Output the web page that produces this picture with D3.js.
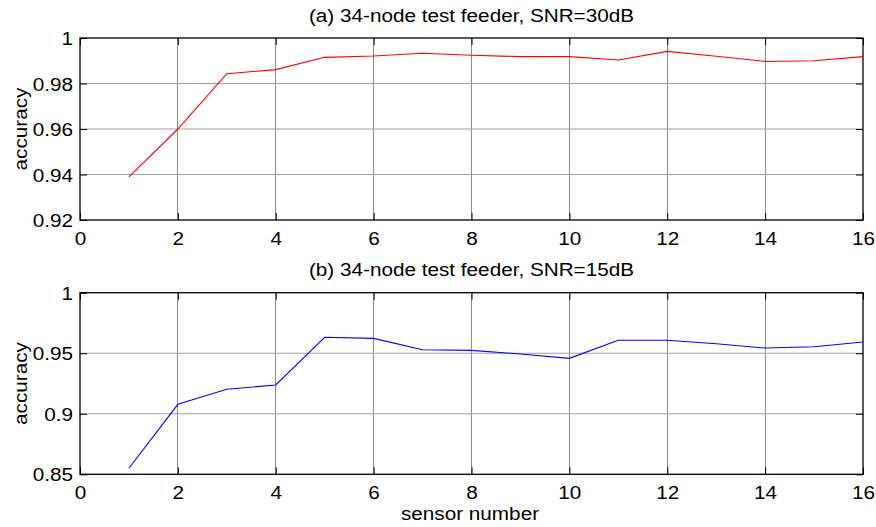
<!DOCTYPE html>
<html><head><meta charset="utf-8">
<script src="https://cdn.jsdelivr.net/npm/d3@7"></script>
<style>
body{margin:0;background:#fff;}
svg{display:block;}
text{font-family:"Liberation Sans",Arial,sans-serif;fill:#000;}
</style></head>
<body>
<svg id="c" width="876" height="527"></svg>
<script>
const sensors = [1,2,3,4,5,6,7,8,9,10,11,12,13,14,15,16];
const acc30 = [0.939,0.960,0.9843,0.9861,0.9915,0.9921,0.9933,0.9924,0.9918,0.9918,0.9903,0.9941,0.9920,0.9897,0.9900,0.9918];
const acc15 = [0.855,0.9078,0.9202,0.9238,0.9632,0.9623,0.9529,0.9524,0.9494,0.9458,0.9607,0.9607,0.9578,0.9543,0.9554,0.9593];
const xTicks = [0,2,4,6,8,10,12,14,16];
const yTicks30 = [0.92,0.94,0.96,0.98,1];
const yTicks15 = [0.85,0.9,0.95,1];
const titles = ["(a) 34-node test feeder, SNR=30dB","(b) 34-node test feeder, SNR=15dB"];
const yLabel = "accuracy";
const xLabel = "sensor number";

const svg = d3.select("#c");
const SX = 1.12;
const FS = 18.5;
const left = 80, right = 863;

const panels = [
  {top:38, bottom:220, data:acc30, ticks:yTicks30, dom:[0.92,1], color:"#ff0000", title:titles[0], titleY:22, fmt:d=>d===1?"1":d3.format(".2f")(d)},
  {top:292.7, bottom:474.3, data:acc15, ticks:yTicks15, dom:[0.85,1], color:"#0000ff", title:titles[1], titleY:276, fmt:d=>d===1?"1":(d===0.9?"0.9":d3.format(".2f")(d))}
];

function stext(g, x, y, str, anchor, rot){
  const t = g.append("text")
    .attr("transform", `translate(${x},${y})` + (rot?` rotate(${rot})`:"") + ` scale(${SX},1)`)
    .attr("text-anchor", anchor)
    .style("font-size", FS+"px")
    .text(str);
  return t;
}

panels.forEach((p,i)=>{
  const x = d3.scaleLinear().domain([0,16]).range([left,right]);
  const y = d3.scaleLinear().domain(p.dom).range([p.bottom,p.top]);
  const g = svg.append("g");

  // grid
  g.append("g").selectAll("line.v").data(xTicks.filter(d=>d>0&&d<16)).join("line")
    .attr("x1",d=>x(d)).attr("x2",d=>x(d)).attr("y1",p.top).attr("y2",p.bottom)
    .attr("stroke","#8c8c8c").attr("stroke-width",1).attr("shape-rendering","crispEdges");
  g.append("g").selectAll("line.h").data(p.ticks.filter(d=>d>p.dom[0]&&d<p.dom[1])).join("line")
    .attr("x1",left).attr("x2",right).attr("y1",d=>y(d)).attr("y2",d=>y(d))
    .attr("stroke","#a0a0a0").attr("stroke-width",1.2);

  // axes (inner ticks on all sides)
  const ax = [
    [d3.axisBottom(x).tickValues(xTicks).tickSize(7).tickFormat(d3.format("d")), `translate(0,${p.bottom})`, true],
    [d3.axisTop(x).tickValues(xTicks).tickSize(7).tickFormat(""), `translate(0,${p.top})`, false],
    [d3.axisLeft(y).tickValues(p.ticks).tickSize(7).tickFormat(p.fmt), `translate(${left},0)`, true],
    [d3.axisRight(y).tickValues(p.ticks).tickSize(7).tickFormat(""), `translate(${right},0)`, false]
  ];
  ax.forEach(([a,tr,lab],k)=>{
    const ag = g.append("g").attr("transform",tr).call(a);
    ag.select(".domain").remove();
    ag.selectAll(".tick line").attr("stroke","#000");
    // flip ticks inward
    if(k===0) ag.selectAll(".tick line").attr("y2",-7);
    if(k===1) ag.selectAll(".tick line").attr("y2",7);
    if(k===2) ag.selectAll(".tick line").attr("x2",7);
    if(k===3) ag.selectAll(".tick line").attr("x2",-7);
    ag.selectAll(".tick text").style("font-size",FS+"px").style("font-family",'"Liberation Sans",Arial,sans-serif').attr("fill","#000");
    if(k===0) ag.selectAll(".tick text").attr("y",null).attr("dy",null).attr("transform",`translate(0,25) scale(${SX},1)`);
    if(k===2) ag.selectAll(".tick text").attr("x",null).attr("dy",null).attr("transform",`translate(-7,6.5) scale(${SX},1)`);
  });

  // box
  g.append("rect").attr("x",left).attr("y",p.top).attr("width",right-left).attr("height",p.bottom-p.top)
    .attr("fill","none").attr("stroke","#000").attr("stroke-width",1.3);

  // line
  const line = d3.line().x((d,j)=>x(sensors[j])).y(d=>y(d));
  g.append("path").datum(p.data).attr("d",line).attr("fill","none").attr("stroke",p.color).attr("stroke-width",1.1);

  // title
  stext(g,(left+right)/2,p.titleY,p.title,"middle");
  // y label
  stext(g,26.5,(p.top+p.bottom)/2,yLabel,"middle",-90);
});
stext(svg,470,520,xLabel,"middle");
</script>
</body></html>
